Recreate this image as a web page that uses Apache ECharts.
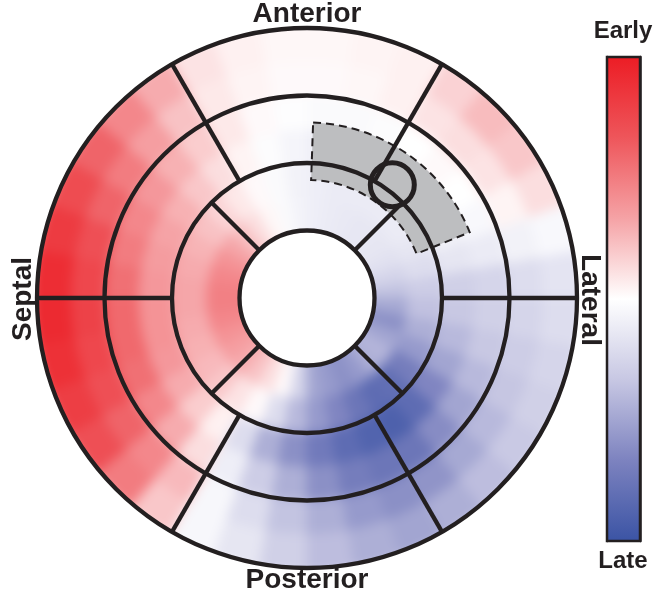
<!DOCTYPE html>
<html>
<head>
<meta charset="utf-8">
<script src="https://cdn.jsdelivr.net/npm/echarts@6/dist/echarts.min.js"></script>
<style>
  html, body { margin: 0; padding: 0; background: #ffffff; }
  #wrap { position: relative; width: 654px; height: 594px; }
  #heat, #frame { position: absolute; left: 0; top: 0; width: 654px; height: 594px; }
  /* soft shading of the timing map */
  #heat { filter: blur(6px); }
</style>
</head>
<body>
<div id="wrap">
  <div id="heat"></div>
  <div id="frame"></div>
</div>
<script>
// Bullseye map of activation timing: +1 = earliest, -1 = latest.
// Angles in degrees (0 = lateral, 90 = anterior, 180 = septal, 270 = posterior),
// radius in ring units (hole 0-1, apical ring 1-2, mid ring 2-3, basal ring 3-4).

const angleCenters = [5, 15, 25, 35, 45, 55, 65, 75, 85, 95, 105, 115,
  125, 135, 145, 155, 165, 175, 185, 195, 205, 215, 225, 235,
  245, 255, 265, 275, 285, 295, 305, 315, 325, 335, 345, 355];

const bandRadii = [1.25, 1.75, 2.25, 2.75, 3.25, 3.75];

const apicalInner = [-0.35, -0.25, -0.18, -0.15, -0.14, -0.14, -0.13, -0.12, -0.1, -0.07, -0.03, 0.03,
  0.12, 0.22, 0.32, 0.4, 0.45, 0.48, 0.48, 0.45, 0.4, 0.35, 0.3, 0.22,
  0.12, 0.02, -0.25, -0.5, -0.55, -0.6, -0.55, -0.45, -0.42, -0.5, -0.6, -0.48];

const apicalOuter = [-0.3, -0.2, -0.15, -0.12, -0.12, -0.12, -0.12, -0.12, -0.1, -0.08, -0.03, 0.02,
  0.08, 0.15, 0.22, 0.27, 0.3, 0.32, 0.32, 0.3, 0.28, 0.25, 0.2, 0.1,
  0.02, -0.2, -0.4, -0.55, -0.65, -0.75, -0.82, -0.8, -0.7, -0.55, -0.45, -0.36];

const midInner = [-0.28, -0.15, -0.08, -0.04, -0.03, -0.04, -0.07, -0.1, -0.1, -0.06, -0.02, 0.04,
  0.12, 0.2, 0.28, 0.33, 0.36, 0.38, 0.4, 0.4, 0.38, 0.3, 0.18, 0.05,
  -0.2, -0.45, -0.6, -0.72, -0.82, -0.88, -0.9, -0.82, -0.65, -0.5, -0.4, -0.33];

const midOuter = [-0.25, -0.12, -0.04, 0.0, 0.02, 0.0, -0.02, -0.03, -0.03, -0.01, 0.02, 0.08,
  0.18, 0.28, 0.38, 0.45, 0.5, 0.55, 0.58, 0.58, 0.55, 0.45, 0.3, 0.12,
  -0.1, -0.3, -0.45, -0.6, -0.7, -0.75, -0.75, -0.62, -0.5, -0.4, -0.33, -0.28];

const basalInner = [-0.2, -0.08, 0.04, 0.1, 0.12, 0.1, 0.05, 0.03, 0.02, 0.02, 0.04, 0.08,
  0.22, 0.35, 0.5, 0.6, 0.7, 0.75, 0.78, 0.75, 0.7, 0.6, 0.45, 0.25,
  -0.05, -0.2, -0.35, -0.45, -0.55, -0.6, -0.58, -0.48, -0.4, -0.34, -0.3, -0.25];

const basalOuter = [-0.16, -0.04, 0.12, 0.2, 0.24, 0.16, 0.05, 0.04, 0.03, 0.03, 0.05, 0.1,
  0.3, 0.45, 0.6, 0.72, 0.82, 0.9, 0.92, 0.88, 0.8, 0.7, 0.5, 0.2,
  -0.05, -0.15, -0.28, -0.38, -0.45, -0.5, -0.45, -0.38, -0.32, -0.28, -0.25, -0.2];

const bands = [apicalInner, apicalOuter, midInner, midOuter, basalInner, basalOuter];

// Segment outlines
const ringRadii = [1, 2, 3, 4];
const apicalSpokes = [45, 135, 225, 315];        // drawn from r = 1 to 2
const outerSpokes = [0, 60, 120, 180, 240, 300];  // drawn from r = 2 to 4

// Highlighted region and pacing site
const regionRadius = [1.75, 2.6];
const regionAngle = [22, 88];
const pacingSite = [2.1, 53];

// Colour scale
const scaleMin = -1;
const scaleMax = 1;
const scaleColours = ['#3a53a4', '#7c82bf', '#c7c7e3', '#ffffff', '#f5a2a5', '#ee555a', '#ec1c24'];
const scaleLabels = ['Early', 'Late'];
const wallLabels = ['Anterior', 'Septal', 'Posterior', 'Lateral'];

const INK = '#231f20';
const FONT = '"Liberation Sans", Arial, Helvetica, sans-serif';
const LINE_W = 4.3;
const CELL_HALF_R = 0.25;
const CELL_HALF_A = 5;
const INNER_EDGE = 1, OUTER_EDGE = 4;

const heatData = [];
bands.forEach(function (vals, i) {
  vals.forEach(function (v, j) {
    heatData.push([bandRadii[i], angleCenters[j], v]);
  });
});

const spokeData = apicalSpokes.map(function (a) { return [1, 2, a]; })
  .concat(outerSpokes.map(function (a) { return [2, 4, a]; }));

function polarPoint(api, params, r, a) {
  const cs = params.coordSys;
  const p = api.coord([r, a]);
  return {
    x: p[0], y: p[1],
    r: Math.hypot(p[0] - cs.cx, p[1] - cs.cy),
    ang: Math.atan2(p[1] - cs.cy, p[0] - cs.cx)
  };
}

function sectorShape(api, params, r0, r1, a0, a1) {
  const cs = params.coordSys;
  const pIn = polarPoint(api, params, r0, a0);
  const pOut = polarPoint(api, params, r1, a0);
  const pEnd = polarPoint(api, params, r1, a1);
  let span = pIn.ang - pEnd.ang;
  while (span <= 0) span += Math.PI * 2;
  return {
    cx: cs.cx, cy: cs.cy,
    r0: pIn.r, r: pOut.r,
    startAngle: pIn.ang - span,
    endAngle: pIn.ang,
    clockwise: true
  };
}

const polarBase = {
  polar: { center: [307, 298], radius: 270 },
  radiusAxis: { type: 'value', min: 0, max: 4, show: false },
  angleAxis: { type: 'value', min: 0, max: 360, startAngle: 0, clockwise: false, show: false }
};

// Layer 1: the shaded timing map (cells slightly overrun the hole and rim; masked above)
const heatChart = echarts.init(document.getElementById('heat'), null, { renderer: 'canvas' });
heatChart.setOption(Object.assign({
  backgroundColor: '#ffffff',
  animation: false,
  visualMap: {
    show: false, type: 'continuous', min: scaleMin, max: scaleMax,
    dimension: 2, seriesIndex: 0, inRange: { color: scaleColours }
  },
  series: [{
    type: 'custom', coordinateSystem: 'polar', silent: true,
    data: heatData,
    renderItem: function (params, api) {
      const r = api.value(0), a = api.value(1);
      let r0 = r - CELL_HALF_R, r1 = r + CELL_HALF_R;
      if (r0 <= INNER_EDGE) r0 = INNER_EDGE - 0.3;
      if (r1 >= OUTER_EDGE) r1 = OUTER_EDGE + 0.1;
      const color = api.visual('color');
      return {
        type: 'sector',
        shape: sectorShape(api, params, r0, r1, a - CELL_HALF_A, a + CELL_HALF_A),
        style: { fill: color, stroke: color, lineWidth: 0.8 }
      };
    }
  }]
}, polarBase));

// Layer 2: masks, segment outlines, highlighted region, colour bar and labels
const colourStops = scaleColours.map(function (c, i) {
  return { offset: 1 - i / (scaleColours.length - 1), color: c };
}).reverse();

const textStyle = function (text, size) {
  return { text: text, font: 'bold ' + size + 'px ' + FONT, fill: INK, align: 'center', verticalAlign: 'middle' };
};

const frameChart = echarts.init(document.getElementById('frame'), null, { renderer: 'canvas' });
frameChart.setOption(Object.assign({
  backgroundColor: 'transparent',
  animation: false,
  grid: { left: 607, top: 57, width: 33, height: 484 },
  xAxis: { type: 'value', min: 0, max: 1, show: false },
  yAxis: [
    {
      type: 'value', min: scaleMin, max: scaleMax, interval: (scaleMax - scaleMin) / 6, position: 'left',
      axisLine: { show: true, lineStyle: { color: INK, width: 2.5 } },
      axisTick: { show: true, inside: true, length: 5, lineStyle: { color: INK, width: 1.5 } },
      axisLabel: { show: false }, splitLine: { show: false }
    },
    {
      type: 'value', min: scaleMin, max: scaleMax, interval: (scaleMax - scaleMin) / 6, position: 'right',
      axisLine: { show: true, lineStyle: { color: INK, width: 2.5 } },
      axisTick: { show: true, inside: true, length: 5, lineStyle: { color: INK, width: 1.5 } },
      axisLabel: { show: false }, splitLine: { show: false }
    }
  ],
  series: [
    {
      // white hole and white surround
      type: 'custom', coordinateSystem: 'polar', z: 1, silent: true,
      data: [[INNER_EDGE, OUTER_EDGE]],
      renderItem: function (params, api) {
        const cs = params.coordSys;
        const inner = polarPoint(api, params, api.value(0), 0);
        const outer = polarPoint(api, params, api.value(1), 0);
        return {
          type: 'group',
          children: [
            { type: 'circle', shape: { cx: cs.cx, cy: cs.cy, r: inner.r }, style: { fill: '#ffffff' } },
            { type: 'ring', shape: { cx: cs.cx, cy: cs.cy, r0: outer.r, r: outer.r + 26 }, style: { fill: '#ffffff' } }
          ]
        };
      }
    },
    {
      type: 'custom', coordinateSystem: 'polar', z: 2, silent: true,
      data: [[regionRadius[0], regionRadius[1], regionAngle[0], regionAngle[1]]],
      renderItem: function (params, api) {
        return {
          type: 'sector',
          shape: sectorShape(api, params, api.value(0), api.value(1), api.value(2), api.value(3)),
          style: { fill: '#bdbec0', stroke: INK, lineWidth: 2, lineDash: [8, 5] }
        };
      }
    },
    {
      type: 'custom', coordinateSystem: 'polar', z: 3, silent: true,
      data: ringRadii.map(function (r) { return [r, 0]; }),
      renderItem: function (params, api) {
        const cs = params.coordSys;
        const p = polarPoint(api, params, api.value(0), 0);
        return {
          type: 'circle',
          shape: { cx: cs.cx, cy: cs.cy, r: p.r },
          style: { fill: null, stroke: INK, lineWidth: LINE_W }
        };
      }
    },
    {
      type: 'custom', coordinateSystem: 'polar', z: 3, silent: true,
      data: spokeData,
      renderItem: function (params, api) {
        const a = api.value(2);
        const p0 = polarPoint(api, params, api.value(0), a);
        const p1 = polarPoint(api, params, api.value(1), a);
        return {
          type: 'line',
          shape: { x1: p0.x, y1: p0.y, x2: p1.x, y2: p1.y },
          style: { stroke: INK, lineWidth: LINE_W }
        };
      }
    },
    {
      type: 'scatter', coordinateSystem: 'polar', z: 4, silent: true,
      symbol: 'circle', symbolSize: 44,
      itemStyle: { color: 'rgba(0,0,0,0)', borderColor: INK, borderWidth: 5, opacity: 1 },
      data: [pacingSite]
    },
    {
      type: 'custom', coordinateSystem: 'cartesian2d', xAxisIndex: 0, yAxisIndex: 0, z: 1, silent: true,
      data: [[0, 1, scaleMin, scaleMax]],
      renderItem: function (params, api) {
        const tl = api.coord([api.value(0), api.value(3)]);
        const br = api.coord([api.value(1), api.value(2)]);
        return {
          type: 'rect',
          shape: { x: tl[0], y: tl[1], width: br[0] - tl[0], height: br[1] - tl[1] },
          style: {
            fill: new echarts.graphic.LinearGradient(0, 0, 0, 1, colourStops),
            stroke: INK, lineWidth: 2.5
          }
        };
      }
    }
  ],
  graphic: [
    { type: 'text', z: 100, x: 307, y: 14, style: textStyle(wallLabels[0], 28) },
    { type: 'text', z: 100, x: 23, y: 299, rotation: Math.PI / 2, style: textStyle(wallLabels[1], 28) },
    { type: 'text', z: 100, x: 307, y: 580, style: textStyle(wallLabels[2], 28) },
    { type: 'text', z: 100, x: 590, y: 300, rotation: -Math.PI / 2, style: textStyle(wallLabels[3], 28) },
    { type: 'text', z: 100, x: 623, y: 31, style: textStyle(scaleLabels[0], 24) },
    { type: 'text', z: 100, x: 623, y: 561, style: textStyle(scaleLabels[1], 24) }
  ]
}, polarBase));
</script>
</body>
</html>
